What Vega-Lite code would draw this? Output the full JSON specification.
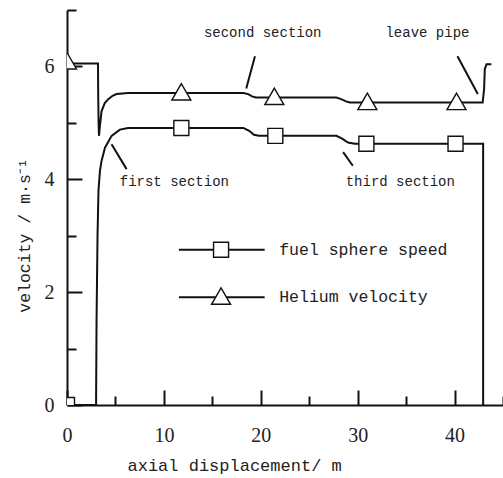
{
  "$schema": "https://vega.github.io/schema/vega-lite/v6.json",
  "width": 436,
  "height": 395,
  "autosize": {"type": "none"},
  "padding": {"left": 67, "top": 10, "right": 0, "bottom": 73},
  "background": "white",
  "config": {
    "view": {"stroke": null},
    "axis": {
      "grid": false,
      "domainColor": "#111",
      "domainWidth": 2,
      "tickColor": "#111",
      "tickWidth": 2,
      "labelFont": "Liberation Serif",
      "labelFontSize": 20,
      "labelColor": "#222",
      "titleFont": "Liberation Mono",
      "titleFontWeight": "normal",
      "titleFontSize": 16.5,
      "titleColor": "#222"
    }
  },
  "datasets": {
    "curves": [
      {"s": "helium", "i": 1, "x": 0, "y": 6.05},
      {"s": "helium", "i": 2, "x": 3.2, "y": 6.05},
      {"s": "helium", "i": 3, "x": 3.22, "y": 5.5},
      {"s": "helium", "i": 4, "x": 3.26, "y": 5.0},
      {"s": "helium", "i": 5, "x": 3.3, "y": 4.77},
      {"s": "helium", "i": 6, "x": 3.4, "y": 4.95},
      {"s": "helium", "i": 7, "x": 3.57, "y": 5.21},
      {"s": "helium", "i": 8, "x": 3.9, "y": 5.35},
      {"s": "helium", "i": 9, "x": 4.26, "y": 5.42},
      {"s": "helium", "i": 10, "x": 4.7, "y": 5.48},
      {"s": "helium", "i": 11, "x": 5.12, "y": 5.51},
      {"s": "helium", "i": 12, "x": 6.3, "y": 5.53},
      {"s": "helium", "i": 13, "x": 18.2, "y": 5.53},
      {"s": "helium", "i": 14, "x": 18.7, "y": 5.51},
      {"s": "helium", "i": 15, "x": 19.1, "y": 5.47},
      {"s": "helium", "i": 16, "x": 19.5, "y": 5.45},
      {"s": "helium", "i": 17, "x": 27.8, "y": 5.45},
      {"s": "helium", "i": 18, "x": 28.3, "y": 5.42},
      {"s": "helium", "i": 19, "x": 28.8, "y": 5.38},
      {"s": "helium", "i": 20, "x": 29.2, "y": 5.36},
      {"s": "helium", "i": 21, "x": 42.9, "y": 5.36},
      {"s": "helium", "i": 22, "x": 43.05, "y": 5.6},
      {"s": "helium", "i": 23, "x": 43.12, "y": 5.95},
      {"s": "helium", "i": 24, "x": 43.3, "y": 6.04},
      {"s": "helium", "i": 25, "x": 43.8, "y": 6.04},
      {"s": "fuel", "i": 1, "x": 0, "y": 0},
      {"s": "fuel", "i": 2, "x": 3.0, "y": 0},
      {"s": "fuel", "i": 3, "x": 3.05, "y": 1.5},
      {"s": "fuel", "i": 4, "x": 3.15, "y": 3.0},
      {"s": "fuel", "i": 5, "x": 3.25, "y": 3.8},
      {"s": "fuel", "i": 6, "x": 3.4, "y": 4.15},
      {"s": "fuel", "i": 7, "x": 3.57, "y": 4.33},
      {"s": "fuel", "i": 8, "x": 3.92, "y": 4.56},
      {"s": "fuel", "i": 9, "x": 4.6, "y": 4.77},
      {"s": "fuel", "i": 10, "x": 5.46, "y": 4.88},
      {"s": "fuel", "i": 11, "x": 6.3, "y": 4.91},
      {"s": "fuel", "i": 12, "x": 18.2, "y": 4.91},
      {"s": "fuel", "i": 13, "x": 18.8, "y": 4.86},
      {"s": "fuel", "i": 14, "x": 19.3, "y": 4.79},
      {"s": "fuel", "i": 15, "x": 19.8, "y": 4.77},
      {"s": "fuel", "i": 16, "x": 27.8, "y": 4.77},
      {"s": "fuel", "i": 17, "x": 28.4, "y": 4.72},
      {"s": "fuel", "i": 18, "x": 29.0, "y": 4.65},
      {"s": "fuel", "i": 19, "x": 29.7, "y": 4.63},
      {"s": "fuel", "i": 20, "x": 42.95, "y": 4.63},
      {"s": "fuel", "i": 21, "x": 42.95, "y": 0}
    ],
    "markers": [
      {"s": "helium", "x": 0, "y": 6.1},
      {"s": "helium", "x": 11.8, "y": 5.55},
      {"s": "helium", "x": 21.4, "y": 5.47},
      {"s": "helium", "x": 31.0, "y": 5.38},
      {"s": "helium", "x": 40.2, "y": 5.38},
      {"s": "helium", "x": 15.9, "y": 1.93},
      {"s": "fuel", "x": 0, "y": 0},
      {"s": "fuel", "x": 11.8, "y": 4.91},
      {"s": "fuel", "x": 21.5, "y": 4.77},
      {"s": "fuel", "x": 30.9, "y": 4.63},
      {"s": "fuel", "x": 40.1, "y": 4.63},
      {"s": "fuel", "x": 15.9, "y": 2.75}
    ],
    "segments": [
      {"x": 19.4, "y": 6.18, "x2": 18.5, "y2": 5.61},
      {"x": 40.3, "y": 6.18, "x2": 42.4, "y2": 5.51},
      {"x": 4.6, "y": 4.62, "x2": 6.15, "y2": 4.18},
      {"x": 28.5, "y": 4.48, "x2": 29.5, "y2": 4.24},
      {"x": 11.55, "y": 2.75, "x2": 20.4, "y2": 2.75},
      {"x": 11.55, "y": 1.91, "x2": 20.4, "y2": 1.91}
    ],
    "notes": [
      {"t": "second section", "x": 20.2, "y": 6.59},
      {"t": "leave pipe", "x": 37.2, "y": 6.59},
      {"t": "first section", "x": 11.08, "y": 3.95},
      {"t": "third section", "x": 34.4, "y": 3.96}
    ],
    "legend": [
      {"t": "fuel sphere speed", "x": 21.9, "y": 2.75},
      {"t": "Helium velocity", "x": 21.9, "y": 1.91}
    ]
  },
  "encoding": {
    "x": {
      "field": "x", "type": "quantitative",
      "scale": {"domain": [0, 45], "nice": false, "zero": false},
      "axis": {
        "values": [0, 5, 10, 15, 20, 25, 30, 35, 40, 45],
        "labelExpr": "datum.value % 10 === 0 && datum.value < 45 ? datum.label : ''",
        "tickSize": {"condition": {"test": "datum.value % 10 === 0", "value": -15}, "value": -9},
        "labelPadding": 35,
        "labelFlush": false,
        "title": "axial displacement/ m",
        "titleFontSize": 17,
        "titleAnchor": "start",
        "titleAlign": "left",
        "titleX": 60,
        "titleY": 65,
        "titleBaseline": "alphabetic"
      }
    },
    "y": {
      "field": "y", "type": "quantitative",
      "scale": {"domain": [0, 7], "nice": false},
      "axis": {
        "values": [0, 1, 2, 3, 4, 5, 6, 7],
        "labelExpr": "datum.value % 2 === 0 && datum.value < 7 ? datum.label : ''",
        "tickSize": {"condition": {"test": "datum.value % 2 === 0 && datum.value < 7", "value": -15}, "value": -9},
        "labelPadding": 28,
        "labelFlush": false,
        "title": "velocity / m·s⁻¹",
        "titleAngle": -90,
        "titleAlign": "center",
        "titleBaseline": "middle",
        "titleX": -43,
        "titleY": 225
      }
    }
  },
  "layer": [
    {
      "data": {"name": "curves"},
      "mark": {"type": "line", "color": "#111", "strokeWidth": 2, "clip": true},
      "encoding": {
        "detail": {"field": "s"},
        "order": {"field": "i", "type": "quantitative"}
      }
    },
    {
      "data": {"name": "segments"},
      "mark": {"type": "rule", "color": "#111", "strokeWidth": 2},
      "encoding": {
        "x2": {"field": "x2"},
        "y2": {"field": "y2"}
      }
    },
    {
      "data": {"name": "markers"},
      "mark": {"type": "point", "filled": true, "fill": "white", "stroke": "#111", "strokeWidth": 1.4, "opacity": 1, "clip": true},
      "encoding": {
        "shape": {"field": "s", "type": "nominal", "scale": {"domain": ["fuel", "helium"], "range": ["square", "triangle-up"]}, "legend": null},
        "size": {"field": "s", "type": "nominal", "scale": {"domain": ["fuel", "helium"], "range": [225, 361]}, "legend": null}
      }
    },
    {
      "data": {"name": "notes"},
      "mark": {"type": "text", "font": "Liberation Mono", "fontSize": 14, "color": "#222", "align": "center", "baseline": "middle"},
      "encoding": {"text": {"field": "t"}}
    },
    {
      "data": {"name": "legend"},
      "mark": {"type": "text", "font": "Liberation Mono", "fontSize": 16.5, "color": "#222", "align": "left", "baseline": "middle"},
      "encoding": {"text": {"field": "t"}}
    }
  ]
}
